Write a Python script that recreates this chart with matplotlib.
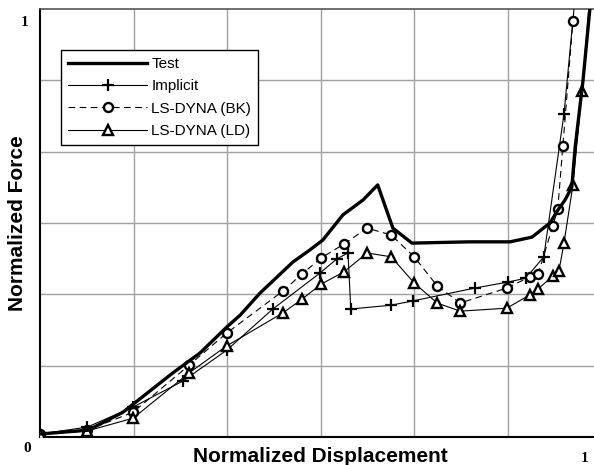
import matplotlib
matplotlib.use("Agg")
import matplotlib.pyplot as plt
import numpy as np

plt.rcParams["font.family"] = ["Liberation Sans", "DejaVu Sans"]

# Normalized displacement / force
test_x = [0, 0.086, 0.148, 0.237, 0.285, 0.333, 0.357, 0.392, 0.451, 0.481, 0.504,
          0.540, 0.576, 0.602, 0.629, 0.663, 0.766, 0.838, 0.877, 0.909, 0.923,
          0.936, 0.948, 0.954, 0.968, 0.980, 0.984]
test_y = [0.007, 0.016, 0.058, 0.150, 0.196, 0.257, 0.285, 0.336, 0.409, 0.437, 0.460,
          0.519, 0.554, 0.589, 0.488, 0.453, 0.456, 0.456, 0.467, 0.500, 0.530,
          0.554, 0.584, 0.678, 0.834, 0.998, 1.03]

impl_x = [0, 0.084, 0.166, 0.255, 0.333, 0.415, 0.499, 0.529, 0.549, 0.554, 0.626,
          0.665, 0.775, 0.834, 0.866, 0.898, 0.934, 0.954]
impl_y = [0.007, 0.023, 0.070, 0.131, 0.203, 0.299, 0.383, 0.416, 0.430, 0.299, 0.308,
          0.318, 0.348, 0.362, 0.371, 0.421, 0.755, 1.03]

bk_x = [0, 0.084, 0.166, 0.266, 0.333, 0.433, 0.467, 0.501, 0.542, 0.583, 0.626,
        0.667, 0.708, 0.749, 0.832, 0.873, 0.888, 0.914, 0.923, 0.932, 0.950]
bk_y = [0.007, 0.016, 0.058, 0.168, 0.243, 0.341, 0.381, 0.418, 0.451, 0.488, 0.472,
        0.421, 0.353, 0.313, 0.348, 0.374, 0.381, 0.493, 0.533, 0.680, 0.972]

ld_x = [0, 0.084, 0.166, 0.266, 0.333, 0.433, 0.467, 0.501, 0.542, 0.583, 0.626,
        0.667, 0.708, 0.749, 0.832, 0.873, 0.888, 0.914, 0.925, 0.934, 0.950, 0.966, 0.980]
ld_y = [0.007, 0.014, 0.044, 0.150, 0.213, 0.290, 0.322, 0.357, 0.386, 0.430, 0.421,
        0.360, 0.313, 0.294, 0.301, 0.332, 0.346, 0.376, 0.388, 0.453, 0.589, 0.808, 1.03]

fig = plt.figure(figsize=(5.94, 4.65), dpi=100)
ax = fig.add_axes([40 / 594, 28 / 465, 554 / 594, 428 / 465])

ax.plot(test_x, test_y, color="black", lw=2.4, label="Test", zorder=4)
ax.plot(impl_x, impl_y, color="black", lw=0.8, marker="+", ms=8, mew=1.6,
        label="Implicit", zorder=3)
ax.plot(bk_x, bk_y, color="black", lw=0.8, ls=(0, (6, 4)), marker="o", ms=6.5,
        mew=1.7, mfc="white", label="LS-DYNA (BK)", zorder=3)
ax.plot(ld_x, ld_y, color="black", lw=0.8, marker="^", ms=6.5, mew=1.7,
        mfc="white", label="LS-DYNA (LD)", zorder=3)

ax.set_xlim(0, 554 / 561)
ax.set_ylim(0, 1)
ax.set_xticks(np.arange(1, 6) / 6)
ax.set_yticks(np.arange(1, 6) / 6)
ax.tick_params(length=0, labelbottom=False, labelleft=False)
ax.grid(True, color="#a0a0a0", lw=1)
ax.set_axisbelow(True)
ax.spines["right"].set_visible(False)
ax.spines["top"].set_color("#555555")
ax.spines["top"].set_linewidth(1.2)
ax.spines["left"].set_linewidth(1.5)
ax.spines["bottom"].set_linewidth(1.5)

leg = ax.legend(loc="upper left", bbox_to_anchor=(61 / 594, 1 - 50 / 465),
                bbox_transform=fig.transFigure, borderaxespad=0, fontsize=11,
                handlelength=5.2, handletextpad=0.25, labelspacing=0.55,
                fancybox=False, framealpha=1, edgecolor="black", numpoints=1,
                borderpad=0.45)
leg.get_frame().set_linewidth(1.0)

fig.text(320 / 594, 1 - 456 / 465, "Normalized Displacement", ha="center", va="center",
         fontsize=15, fontweight="bold")
fig.text(18 / 594, 1 - 223 / 465, "Normalized Force", ha="center", va="center",
         rotation=90, fontsize=15, fontweight="bold")

serif = ["Liberation Serif", "DejaVu Serif"]
fig.text(25 / 594, 1 - 22 / 465, "1", ha="center", va="center", fontsize=11,
         fontweight="bold", family=serif)
fig.text(27 / 594, 1 - 448 / 465, "0", ha="center", va="center", fontsize=11,
         fontweight="bold", family=serif)
fig.text(585 / 594, 1 - 458 / 465, "1", ha="center", va="center", fontsize=11,
         fontweight="bold", family=serif)

fig.savefig("out.png", dpi=100)
